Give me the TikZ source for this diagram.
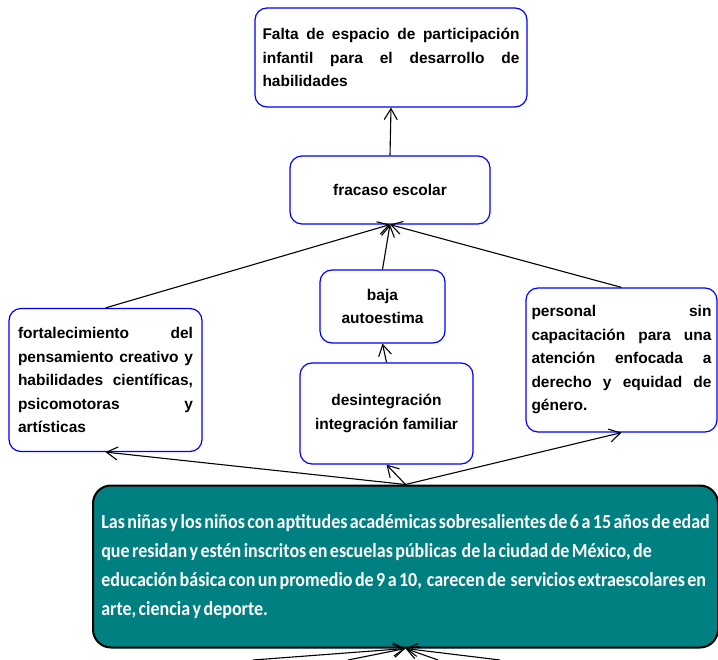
\documentclass[tikz,border=0pt]{standalone}
\usepackage{fontspec}
\setmainfont{Liberation Sans}
\newfontfamily\calibri[FakeStretch=0.9, WordSpace=0.6]{Carlito}
\usetikzlibrary{arrows.meta}
\definecolor{tealbox}{RGB}{0,128,128}

\begin{document}
\begin{tikzpicture}[
	x=1pt, y=-1pt,
	causenode/.style={rectangle, draw=blue, line width=1.2pt, rounded corners=12pt, fill=white, inner sep=0pt, font=\bfseries\fontsize{15.5}{23.5}\selectfont},
	problemnode/.style={rectangle, draw=black, line width=2pt, rounded corners=18pt, fill=tealbox, text=white, inner sep=0pt, font=\calibri\bfseries\fontsize{20}{28.8}\selectfont},
	arrowline/.style={draw, line width=1.1pt, -{Straight Barb[length=11pt,width=13pt]}}
	]
	\useasboundingbox (0,0) rectangle (718,660);
	%Nodes
	\node[causenode, minimum width=272pt, minimum height=99pt, text width=257pt, align=justify] (falta) at (391,57.5) {Falta de espacio de participación\linebreak infantil para el desarrollo de\linebreak habilidades};
	\node[causenode, minimum width=200pt, minimum height=68pt, align=center] (fracaso) at (390,190) {fracaso escolar};
	\node[causenode, minimum width=125pt, minimum height=73pt, align=center] (autoestima) at (382.5,306.5) {baja\\autoestima};
	\node[causenode, minimum width=173pt, minimum height=101pt, align=center] (familiar) at (386.5,413.5) {desintegración\\integración familiar};
	\node[causenode, minimum width=193pt, minimum height=143pt, text width=175pt, align=justify] (pensamiento) at (105.5,380) {fortalecimiento del\linebreak pensamiento creativo y\linebreak habilidades científicas,\linebreak psicomotoras y\linebreak artísticas};
	\node[causenode, minimum width=191pt, minimum height=144pt, text width=180pt, align=justify] (personal) at (621.5,360) {personal sin\linebreak capacitación para una\linebreak atención enfocada a\linebreak derecho y equidad de\linebreak género.};
	\node[problemnode, minimum width=625pt, minimum height=162pt, align=left] (problema) at (405.5,566.5) {Las niñas y los niños con aptitudes académicas sobresalientes de 6 a 15 años de edad\\ que residan y estén inscritos en escuelas públicas \ de la ciudad de México, de\\ educación básica con un promedio de 9 a 10, \ carecen de \ servicios extraescolares en\\ arte, ciencia y deporte.};
	\coordinate (causa1) at (253,660);
	\coordinate (causa2) at (348,660);
	\coordinate (causa3) at (438,660);
	\coordinate (causa4) at (500,660);
	%Lines
	\draw[arrowline] (fracaso.north) -- (falta.south);
	\draw[arrowline] (pensamiento.north) -- (fracaso.south);
	\draw[arrowline] (autoestima.north) -- (fracaso.south);
	\draw[arrowline] (personal.north) -- (fracaso.south);
	\draw[arrowline] (familiar.north) -- (autoestima.south);
	\draw[arrowline] (problema.north) -- (pensamiento.south);
	\draw[arrowline] (problema.north) -- (familiar.south);
	\draw[arrowline] (problema.north) -- (personal.south);
	\draw[arrowline] (causa1) -- (problema.south);
	\draw[arrowline] (causa2) -- (problema.south);
	\draw[arrowline] (causa3) -- (problema.south);
	\draw[arrowline] (causa4) -- (problema.south);
\end{tikzpicture}
\end{document}
